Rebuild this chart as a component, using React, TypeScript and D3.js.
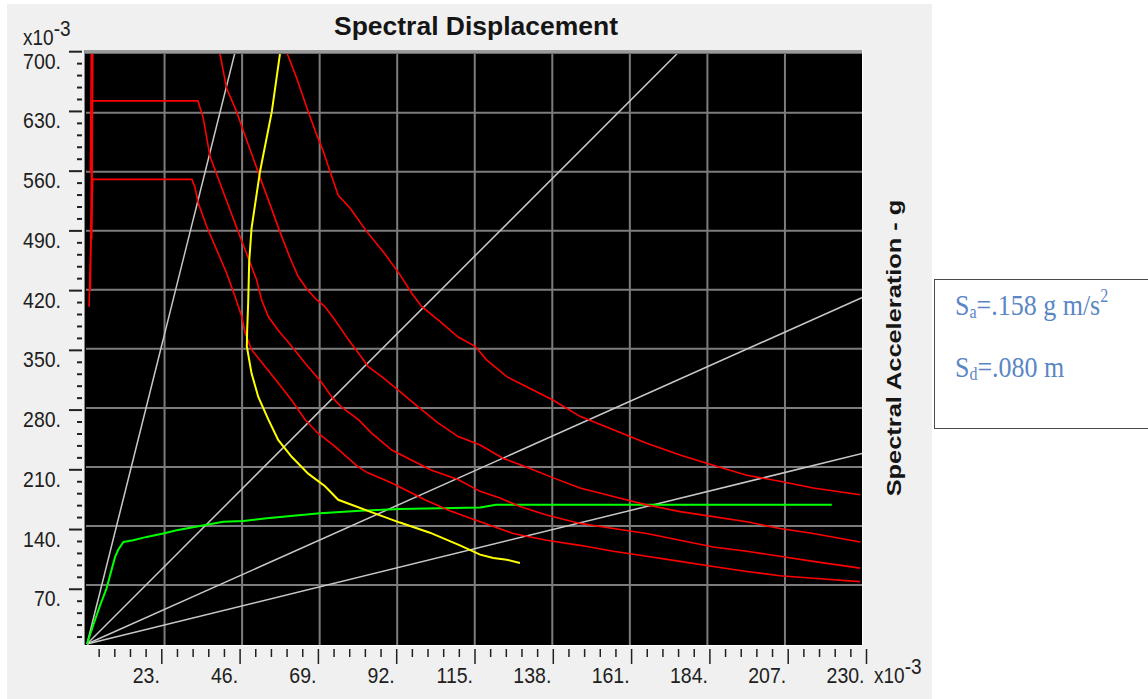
import React from 'react';
import * as d3 from 'd3';

type P = [number, number];

// axis tick labels (values are x10^-3)
const xTickValues = [23, 46, 69, 92, 115, 138, 161, 184, 207, 230];
const yTickValues = [70, 140, 210, 280, 350, 420, 490, 560, 630, 700];

// demand spectra (red), Sd x10^-3 m, Sa x10^-3 g
const demandA: P[] = [[1.0,420],[1.5,644],[32.9,644],[34.4,625],[36.5,578],[39.4,547],[42.4,515],[45.4,483],[48.3,453],[50.3,432],[51.8,408],[53.8,388],[56.7,372],[60.7,353],[64.7,333],[69.6,310],[72.6,293],[75.5,281],[80.5,266],[84.4,250],[90.4,230],[96.3,218],[102.2,206],[110.0,195],[116.6,181],[122.5,173],[128.4,163],[136.3,153],[146.2,143],[156.1,137],[166.0,131],[175.9,123],[185.7,115],[195.7,110],[205.5,104],[215.4,98],[229.3,90]];
const demandB: P[] = [[0.6,400],[1.7,551],[31.1,551],[32.0,542],[33.0,523],[35.5,495],[38.5,467],[41.4,440],[43.9,412],[45.9,388],[46.9,369],[48.8,349],[52.8,329],[56.6,310],[60.7,289],[64.7,266],[68.5,250],[73.6,234],[80.4,210],[83.3,203],[90.4,191],[96.3,179],[100.2,171],[107.6,158],[116.6,145],[126.4,131],[136.3,123],[146.2,117],[156.1,110],[166.0,104],[175.9,98],[185.7,92],[195.7,86],[205.5,81],[215.4,78],[229.3,74]];
const demandC: P[] = [[1.4,480],[1.8,760],[36.6,760],[39.2,705],[41.4,659],[44.4,631],[46.4,608],[49.3,576],[51.8,548],[54.3,521],[57.2,489],[60.2,458],[62.6,436],[65.2,421],[67.9,409],[70.6,400],[73.6,384],[77.5,361],[80.5,345],[83.4,329],[87.4,317],[92.3,301],[98.3,281],[104.2,262],[110.1,246],[116.6,236],[123.5,220],[131.4,208],[138.3,197],[146.2,185],[156.1,175],[166.0,165],[175.9,157],[185.7,151],[195.7,145],[205.5,137],[215.4,131],[229.3,121]];
const demandD: P[] = [[1.0,560],[1.4,760],[53.6,760],[58.9,705],[62.2,671],[65.2,636],[68.1,604],[70.1,584],[72.1,560],[74.5,532],[78.0,517],[83.0,489],[87.9,465],[92.8,438],[96.3,416],[99.3,400],[104.2,384],[110.1,364],[115.1,353],[118.5,337],[124.5,317],[131.4,303],[138.3,289],[146.2,270],[156.1,254],[166.0,238],[175.9,224],[185.7,212],[195.7,200],[205.5,193],[215.4,185],[229.3,177]];

// single demand curve (yellow)
const yellowCurve: P[] = [[58.7,760],[57.2,699],[54.8,631],[51.3,560],[48.8,493],[48.1,453],[47.8,404],[47.5,372],[47.4,353],[48.8,321],[50.8,293],[53.8,266],[56.7,242],[60.7,222],[65.6,202],[70.6,187],[74.5,171],[83.9,157],[92.8,144],[101.7,132],[110.6,117],[116.6,106],[120.5,102],[124.5,100],[128.4,96]];

// capacity curve (green)
const capacityCurve: P[] = [[0,0],[1.9,23],[3.9,46],[5.8,66],[8.3,103],[9.3,112],[10.8,121],[13.7,123],[17.7,127],[22.6,131],[26.6,135],[33.5,140],[40.4,145],[46.4,146],[53.3,149],[61.2,152],[69.1,155],[81.0,158],[92.8,160],[104.7,161],[116.6,162],[121.3,165],[220.9,165]];

// constant period radial lines: end points
const periodLineEnds: P[] = [[43.8,700],[175,700],[230,411],[230,226]];

const SANS = '"Liberation Sans", Arial, sans-serif';
const SERIF = '"Liberation Serif", "Times New Roman", serif';
const SY = 1.15;

const PL = 85, PR = 862, PT = 52, PB = 645;

export default function App() {
  const x = d3.scaleLinear().domain([0, 230]).range([87, 862.5]);
  const y = d3.scaleLinear().domain([0, 700]).range([644, 53.7]);
  const xt = d3.scaleLinear().domain([0, 230]).range([83.5, 866.5]);
  const yt = d3.scaleLinear().domain([0, 700]).range([649, 51.7]);
  const line = d3.line<P>().x(d => x(d[0])).y(d => y(d[1]));

  const minorX = d3.range(1, 51).filter(i => i % 5 !== 0).map(i => i * 4.6);
  const minorY = d3.range(1, 51).filter(i => i % 5 !== 0).map(i => i * 14);

  const redCurves = [demandA, demandB, demandC, demandD];

  return (
    <svg width={1148} height={699} style={{ position: 'absolute', left: 0, top: 0 }}>
      <rect x={0} y={0} width={1148} height={699} fill="#ffffff" />
      <rect x={7} y={4} width={925} height={695} fill="#f0f0f0" />
      <defs>
        <clipPath id="plotclip">
          <rect x={PL + 1} y={PT + 1} width={PR - PL - 1} height={PB - PT - 1} />
        </clipPath>
      </defs>

      {/* title */}
      <text transform={`translate(476,35) scale(1,${SY})`} textAnchor="middle" fontFamily={SANS}
        fontWeight="bold" fontSize={23} fill="#151515" textLength={284} lengthAdjust="spacingAndGlyphs">Spectral Displacement</text>

      {/* plot area */}
      <rect x={PL} y={PT} width={PR - PL} height={PB - PT} fill="#000000" />
      <g clipPath="url(#plotclip)">
        {yTickValues.slice(0, -1).map(v => (
          <line key={'gy' + v} x1={PL} x2={PR} y1={y(v)} y2={y(v)} stroke="#7c7c7c" strokeWidth={2} />
        ))}
        {xTickValues.slice(0, -1).map(v => (
          <line key={'gx' + v} x1={x(v)} x2={x(v)} y1={PT} y2={PB} stroke="#7c7c7c" strokeWidth={2} />
        ))}
        {periodLineEnds.map((e, i) => (
          <path key={'pl' + i} d={line([[0, 0], e]) || ''} stroke="#c8c8c8" strokeWidth={1.5} fill="none" />
        ))}
        <path d={line(capacityCurve) || ''} stroke="#00ff00" strokeWidth={2} fill="none" />
        {redCurves.map((c, i) => (
          <path key={'rc' + i} d={line(c) || ''} stroke="#ff0000" strokeWidth={1.6} fill="none" />
        ))}
        <path d={line(yellowCurve) || ''} stroke="#ffff00" strokeWidth={2} fill="none" />
      </g>
      {/* sunken border */}
      <line x1={PL} x2={PR + 1} y1={PT - 0.5} y2={PT - 0.5} stroke="#9a9a9a" strokeWidth={3} />
      <line x1={PL} x2={PR + 1} y1={PT + 1.5} y2={PT + 1.5} stroke="#6a6a6a" strokeWidth={1} />
      <line x1={PL - 0.5} x2={PL - 0.5} y1={PT - 2} y2={PB} stroke="#8a8a8a" strokeWidth={1} />
      <line x1={PR + 0.5} x2={PR + 0.5} y1={PT - 2} y2={PB + 1} stroke="#ffffff" strokeWidth={1} />
      <line x1={PL - 1} x2={PR + 1} y1={PB + 0.5} y2={PB + 0.5} stroke="#ffffff" strokeWidth={1} />

      {/* y ticks */}
      {yTickValues.map(v => (
        <line key={'ty' + v} x1={69} x2={82} y1={yt(v)} y2={yt(v)} stroke="#202020" strokeWidth={2} />
      ))}
      {minorY.map(v => (
        <line key={'my' + v} x1={77} x2={82} y1={yt(v)} y2={yt(v)} stroke="#202020" strokeWidth={2} />
      ))}
      {yTickValues.map(v => (
        <text key={'ly' + v} transform={`translate(61,${yt(v) + 17}) scale(1,${SY})`} textAnchor="end"
          fontFamily={SANS} fontSize={19.5} fill="#202020">{v + '.'}</text>
      ))}
      <text transform={`translate(23,45) scale(1,${SY})`} fontFamily={SANS} fontSize={19} fill="#202020">
        x10<tspan dy={-8}>-3</tspan>
      </text>

      {/* x ticks */}
      {xTickValues.map(v => (
        <line key={'tx' + v} x1={xt(v)} x2={xt(v)} y1={649} y2={664} stroke="#202020" strokeWidth={1.5} />
      ))}
      {minorX.map(v => (
        <line key={'mx' + v} x1={xt(v)} x2={xt(v)} y1={649} y2={657} stroke="#202020" strokeWidth={1.5} />
      ))}
      {xTickValues.map(v => (
        <text key={'lx' + v} transform={`translate(${xt(v) - 2},${683}) scale(1,${SY})`} textAnchor="end"
          fontFamily={SANS} fontSize={19.5} fill="#202020">{v + '.'}</text>
      ))}
      <text transform={`translate(874,683) scale(1,${SY})`} fontFamily={SANS} fontSize={19} fill="#202020">
        x10<tspan dy={-8}>-3</tspan>
      </text>

      {/* right axis title */}
      <text transform={`translate(901,348) scale(1,${SY}) rotate(-90)`} textAnchor="middle" fontFamily={SANS}
        fontWeight="bold" fontSize={21} fill="#151515" textLength={258} lengthAdjust="spacingAndGlyphs">Spectral Acceleration - g</text>

      {/* annotation box */}
      <rect x={934.5} y={279.5} width={230} height={149} fill="#ffffff" stroke="#4a4a4a" strokeWidth={1} />
      <text transform={`translate(955,315) scale(1,${SY})`} fontFamily={SERIF} fontSize={26} fill="#5b86c4">
        S<tspan fontSize={16} dy={3}>a</tspan><tspan dy={-3}>=.158 g m/s</tspan><tspan fontSize={16} dy={-11}>2</tspan>
      </text>
      <text transform={`translate(955,377) scale(1,${SY})`} fontFamily={SERIF} fontSize={26} fill="#5b86c4">
        S<tspan fontSize={16} dy={3}>d</tspan><tspan dy={-3}>=.080 m</tspan>
      </text>
    </svg>
  );
}
